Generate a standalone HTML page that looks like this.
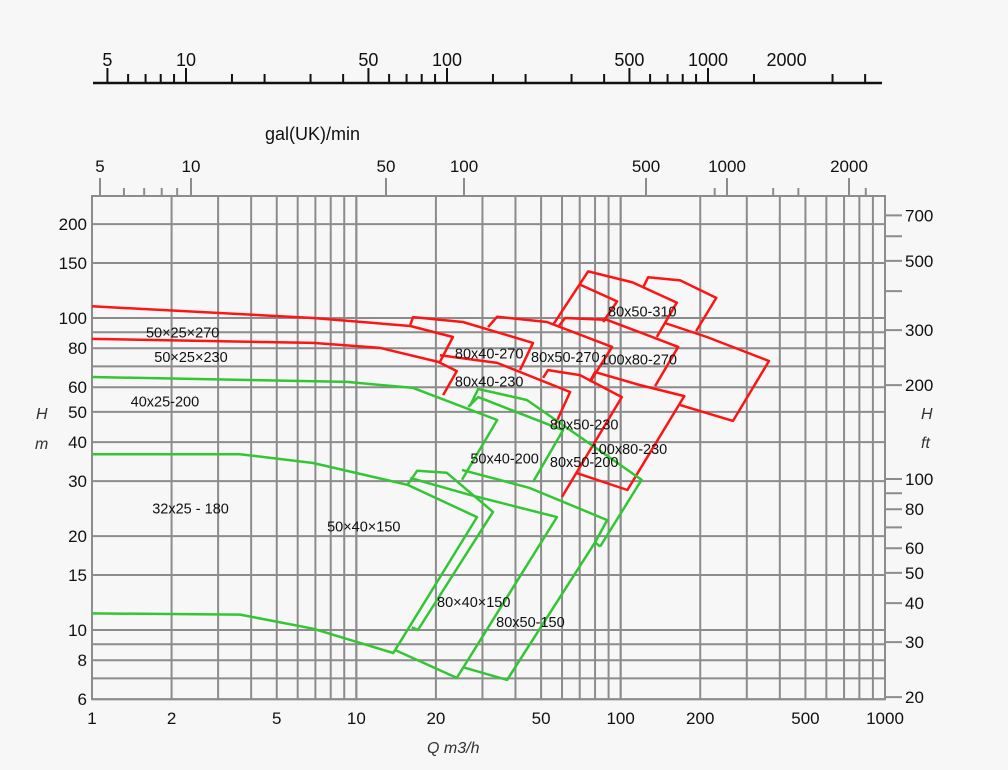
<!DOCTYPE html>
<html><head><meta charset="utf-8">
<style>
html,body{margin:0;padding:0;background:#f7f7f7;}
svg{display:block;font-family:"Liberation Sans",Arial,sans-serif;}
</style></head>
<body>
<svg id="chart" width="1008" height="770" viewBox="0 0 1008 770" xmlns="http://www.w3.org/2000/svg">
<rect width="1008" height="770" fill="#f7f7f7"/>
<g id="grid"></g>
<g id="axes"></g>
<g id="curves"></g>
<g id="labels"></g>
</svg>
<script>
// ---- data ----
const xTickValues = [1,2,5,10,20,50,100,200,500,1000];
const yTickValues = [200,150,100,80,60,50,40,30,20,15,10,8,6];
const yGridValues = [200,150,100,90,80,70,60,50,40,30,20,15,10,9,8,7,6];
const ftTickValues = [700,600,500,400,300,200,100,90,80,70,60,50,40,30,20];
const ftLabelValues = [700,500,300,200,100,80,60,50,40,30,20];
const topMajor = [5,10,50,100,500,1000,2000];
const topMinor = [6,7,8,9,15,20,30,40,60,70,80,90,150,200,300,400,600,700,800,900,1500,3000,4000];
const galMajor = [5,10,50,100,500,1000,2000];
const galMinor = [6,7,8,9,900,1300,1500,2200];

// red envelopes [Q m3/h, H m]
const red50x25 = [[1,109],[6.86,100],[16,94.3],[23.2,86.9],[20.7,72.3]];
const red50x25b = [[1,85.7],[6.86,83.2],[12.3,80.2],[20.4,72.3],[24,67.6],[21.3,56.6]];
const red80x40_270 = [[16,95.1],[16.4,100.7],[25.3,97.1],[46.6,83.2],[41.6,68.1]];
const red80x40_230 = [[20.7,76],[34.1,71.8],[64.4,57.9],[56.5,45.4]];
const red80x50_270 = [[31.5,93.5],[34.1,101],[52.6,97.1],[92.8,80.8],[76.6,62.4]];
const red80x50_230 = [[50.9,64.3],[53.1,68.1],[70.2,65.6],[101,55.8],[60,26.7]];
const red100x80_270 = [[58,93.5],[61.6,100],[88.9,98.6],[165,80.8],[135,60.5]];
const red100x80_230 = [[76.6,62.8],[80,67.1],[118,61],[174,56.2],[106,28.1],[68.4,31.8]];
const red80x50_310 = [[55.5,95.1],[75.3,141],[111,130],[163,112],[137,86.9]];
const red80x50_310i = [[70.2,128],[96.9,113],[85.8,97.1]];
const red100x80_310 = [[122,126],[127,135],[168,132],[230,116],[193,90.8]];
const red100x80_310b = [[147,96.4],[212,86.9],[364,72.8],[266,46.8],[168,52.6]];
// green envelopes
const grn40x25 = [[1,64.7],[9.22,62.4],[16.4,59.7],[34.1,47.1],[25.1,30.3]];
const grn50x40_200 = [[26.5,51.9],[28.9,55.8],[60.5,43.7],[46.6,29.8]];
const grn80x50_200 = [[26.9,52.2],[28.9,59.2],[44.2,54.6],[120,30.3],[83.6,18.5]];
const grn50x40_200b = [[25.1,32.6],[45.4,28.5],[88.9,22.5],[80,19.1],[83.6,18.5]];
const grn32x25 = [[1,36.6],[3.63,36.6],[6.86,34.3],[15.6,29.2],[28.6,23],[13.8,8.44],[6.86,10.1],[3.63,11.2],[1,11.3]];
const grn80x40_150 = [[15.6,29.2],[17,32.4],[22,31.9],[32.9,23.9],[17.1,10],[16.2,10.2]];
const grn80x50_150i = [[16,30.7],[26.9,27.1],[57.4,23],[24,7.02],[14,8.63]];
const grn80x50_150 = [[80,19.1],[37.2,6.92],[25.3,7.6]];

const redSeries = [red50x25,red50x25b,red80x40_270,red80x40_230,red80x50_270,red80x50_230,red100x80_270,red100x80_230,red80x50_310,red80x50_310i,red100x80_310,red100x80_310b];
const greenSeries = [grn40x25,grn50x40_200,grn80x50_200,grn50x40_200b,grn32x25,grn80x40_150,grn80x50_150i,grn80x50_150];

const curveLabels = ["50×25×270","50×25×230","40x25-200","32x25 - 180","50×40×150","80x40-270","80x50-270","100x80-270","80x50-310","80x40-230","80x50-230","100x80-230","50x40-200","80x50-200","80×40×150","80x50-150"];
const labelQ = [1.6,1.72,1.4,1.69,7.75,23.6,45.8,83.8,89.6,23.6,54,77,27,54,20.2,33.8];
const labelH = [90,75,54,24.5,21.5,77,75,73.5,105,62.5,45.5,38,35.5,34.5,12.3,10.6];

// ---- scales ----
const X0=92, X1=885, Y10=630, DEC_Y=312;
function xs(q){return X0+(X1-X0)/3*Math.log10(q);}
function ys(h){return Y10-DEC_Y*(Math.log10(h)-1);}
function xTop(g){return 186+261*(Math.log10(g)-1);}
const galAnchorV=[5,10,50,100,500,1000,2000], galAnchorP=[100,191,386,464,646,727,849];
function xGal(g){
  const l=Math.log10(g);
  for(let i=0;i<galAnchorV.length-1;i++){
    const a=Math.log10(galAnchorV[i]),b=Math.log10(galAnchorV[i+1]);
    if(l<=b||i===galAnchorV.length-2){return galAnchorP[i]+(galAnchorP[i+1]-galAnchorP[i])*(l-a)/(b-a);}
  }
}
const NS="http://www.w3.org/2000/svg";
function mk(tag,attrs,parent){const e=document.createElementNS(NS,tag);for(const k in attrs)e.setAttribute(k,attrs[k]);parent.appendChild(e);return e;}
const grid=document.getElementById('grid'),axes=document.getElementById('axes'),curves=document.getElementById('curves'),labels=document.getElementById('labels');
const TOP=196, BOT=ys(6);

for(let d=1;d<=100;d*=10){for(let m=1;m<=10;m++){
  const x=xs(m*d);
  const ln=mk('line',{x1:x,x2:x,y1:TOP,y2:BOT,stroke:'#8c8c8c','stroke-width':2},grid);
  
  
}}
yGridValues.forEach(v=>{
  const y=ys(v);
  const ln=mk('line',{x1:X0,x2:X1,y1:y,y2:y,stroke:'#8c8c8c','stroke-width':2},grid);
  
  
});
const frame=mk('rect',{x:X0,y:TOP,width:X1-X0,height:BOT-TOP,fill:'none',stroke:'#8c8c8c','stroke-width':2},grid);



function txt(s,x,y,opts,parent){
  const t=mk('text',Object.assign({x:x,y:y,'font-size':17,fill:'#111'},opts||{}),parent);
  t.textContent=s;return t;
}
xTickValues.forEach(v=>{
  const t=txt(String(v),xs(v),724,{'text-anchor':'middle'},axes);
  
  
});
yTickValues.forEach(v=>{
  const t=txt(String(v),87,ys(v)+6,{'text-anchor':'end'},axes);
  
  
});
ftTickValues.forEach(v=>{
  const y=ys(v*0.3048);
  const l=mk('line',{x1:X1,x2:902,y1:y,y2:y,stroke:'#8c8c8c','stroke-width':2},axes);
  
  
});
ftLabelValues.forEach(v=>{
  const t=txt(String(v),905,ys(v*0.3048)+6,{},axes);
  
  
});
[['H',36,419,'y-axis-title-h'],['m',35,449,'y-axis-unit-m'],['H',921,419,'ft-axis-title-h'],['ft',921,448,'ft-axis-unit']].forEach(a=>{
  const t=txt(a[0],a[1],a[2],{'font-style':'italic','font-size':16,fill:'#333'},axes);
  
  
});
const qt=txt('Q  m3/h',427,753,{'font-style':'italic','font-size':16,fill:'#333'},axes);



galMajor.forEach(v=>{
  const x=xGal(v);
  const l=mk('line',{x1:x,x2:x,y1:TOP,y2:178,stroke:'#8c8c8c','stroke-width':2},axes);
  
  
  const t=txt(String(v),x,172,{'text-anchor':'middle'},axes);
  
  
});
galMinor.forEach(v=>{
  const x=xGal(v);
  const l=mk('line',{x1:x,x2:x,y1:TOP,y2:188,stroke:'#8c8c8c','stroke-width':2},axes);
  
  
});
const gt=txt('gal(UK)/min',265,140,{'font-size':18},axes);



const tl=mk('line',{x1:93,x2:882,y1:83,y2:83,stroke:'#111','stroke-width':2.5},axes);


topMajor.forEach(v=>{
  const x=xTop(v);
  if(v!==2000){
    const l=mk('line',{x1:x,x2:x,y1:83,y2:68,stroke:'#111','stroke-width':2},axes);
    
    
  }
  const t=txt(String(v),x,66,{'text-anchor':'middle','font-size':18},axes);
  
  
});
topMinor.forEach(v=>{
  const x=xTop(v);
  const l=mk('line',{x1:x,x2:x,y1:83,y2:74,stroke:'#111','stroke-width':2},axes);
  
  
});

function drawSeries(arr,color,name){
  arr.forEach(s=>{
    const d=s.map((p,i)=>(i?'L':'M')+xs(p[0]).toFixed(1)+' '+ys(p[1]).toFixed(1)).join(' ');
    const p=mk('path',{d:d,fill:'none',stroke:color,'stroke-width':2.5,'stroke-linejoin':'round'},curves);
    
    
  });
}
drawSeries(redSeries,'#ff1414','red-pump-envelope');
drawSeries(greenSeries,'#33c633','green-pump-envelope');

curveLabels.forEach((s,i)=>{
  const t=txt(s,xs(labelQ[i]),ys(labelH[i])+5,{'font-size':14.5,fill:'#111'},labels);
  
  
});
</script>
</body></html>
